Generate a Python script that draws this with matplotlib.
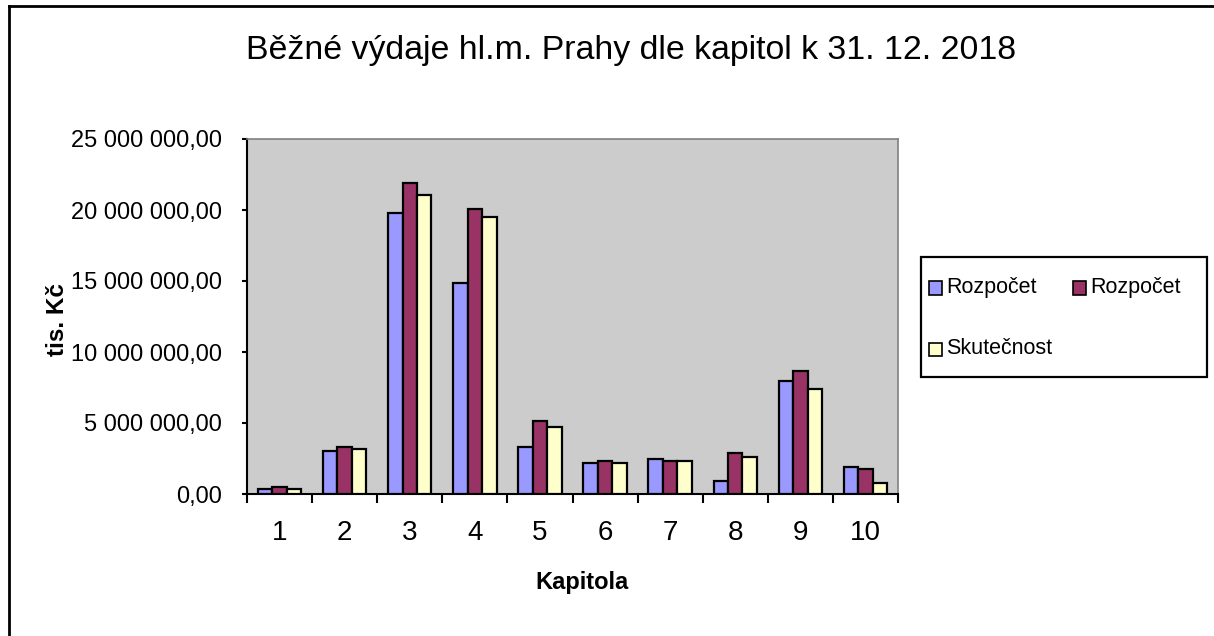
#!/usr/bin/env python3

import matplotlib
matplotlib.use('Agg')
import matplotlib.pyplot as plt
import numpy as np
from matplotlib.patches import Rectangle
from matplotlib.lines import Line2D
from matplotlib.ticker import FuncFormatter, FixedLocator

plt.rcParams['font.family'] = ['Liberation Sans', 'DejaVu Sans']

kapitoly = ['1', '2', '3', '4', '5', '6', '7', '8', '9', '10']
rozpocet_schvaleny = [0.37e6, 3.05e6, 19.8e6, 14.86e6, 3.33e6, 2.2e6, 2.49e6, 0.94e6, 7.98e6, 1.92e6]
rozpocet_upraveny = [0.51e6, 3.33e6, 21.9e6, 20.07e6, 5.14e6, 2.35e6, 2.35e6, 2.91e6, 8.68e6, 1.78e6]
skutecnost = [0.37e6, 3.19e6, 21.06e6, 19.5e6, 4.74e6, 2.2e6, 2.35e6, 2.63e6, 7.42e6, 0.8e6]

series_names = ['Rozpočet', 'Rozpočet', 'Skutečnost']
colors = ['#9999FF', '#993366', '#FFFFCC']

W, H = 1214, 636
fig = plt.figure(figsize=(W / 100, H / 100), dpi=100)

def px(x, y):
    # pixel coords (from top left) -> figure fraction
    return x / W, 1 - y / H

# plot area in pixels: left 247, right 898, top 139, bottom 494
ax = fig.add_axes([247 / W, 1 - 494 / H, (898 - 247) / W, (494 - 139) / H])
ax.set_facecolor('#CCCCCC')

x = np.arange(len(kapitoly))
bw = 1 / 4.5
data = [rozpocet_schvaleny, rozpocet_upraveny, skutecnost]
for i, (vals, c) in enumerate(zip(data, colors)):
    ax.bar(x + (i - 1) * bw, vals, bw, color=c, edgecolor='black',
           linewidth=1.6, zorder=3)

ax.set_xlim(-0.5, len(kapitoly) - 0.5)
ax.set_ylim(0, 25e6)
ax.set_yticks(np.arange(0, 25e6 + 1, 5e6))
ax.yaxis.set_major_formatter(FuncFormatter(
    lambda v, p: f'{v:,.2f}'.replace(',', ' ').replace('.', ',')))
ax.tick_params(axis='y', direction='out', length=3.8, width=1.5,
               labelsize=17, pad=14)

# category boundaries as major ticks, labels on minor ticks
ax.xaxis.set_major_locator(FixedLocator(np.arange(-0.5, len(kapitoly), 1)))
ax.xaxis.set_minor_locator(FixedLocator(x))
ax.set_xticklabels([], minor=False)
ax.set_xticklabels(kapitoly, minor=True)
ax.tick_params(axis='x', which='major', direction='out', length=6.5, width=1.5)
ax.tick_params(axis='x', which='minor', length=0, labelsize=20, pad=19)

for s in ['left', 'bottom']:
    ax.spines[s].set_color('black')
    ax.spines[s].set_linewidth(1.5)
for s in ['top', 'right']:
    ax.spines[s].set_color('#808080')
    ax.spines[s].set_linewidth(1.2)

fig.text(*px(631, 51), 'Běžné výdaje hl.m. Prahy dle kapitol k 31. 12. 2018',
         ha='center', va='center', fontsize=24.4)
fig.text(*px(57, 320), 'tis. Kč', rotation=90, ha='center', va='center',
         fontsize=17.5, fontweight='bold')
fig.text(*px(582, 582), 'Kapitola', ha='center', va='center',
         fontsize=17, fontweight='bold')

# legend box
x0, y0 = px(921, 377)
x1, y1 = px(1207, 257)
fig.add_artist(Rectangle((x0, y0), x1 - x0, y1 - y0, transform=fig.transFigure,
                         facecolor='white', edgecolor='black', linewidth=1.6))
entries = [(929, 288), (1073, 288), (929, 349)]
for (ex, ey), name, c in zip(entries, series_names, colors):
    mx, my = px(ex, ey + 6.5)
    fig.add_artist(Rectangle((mx, my), 13 / W, 13 / H, transform=fig.transFigure,
                             facecolor=c, edgecolor='black', linewidth=1.2))
    fig.text(*px(ex + 17, ey), name, ha='left', va='center', fontsize=15.5)

# outer chart border (left and top only visible)
fig.add_artist(Line2D([9 / W, 9 / W], [0, 1 - 6 / H], color='black',
                      linewidth=2, transform=fig.transFigure))
fig.add_artist(Line2D([9 / W, 1], [1 - 6 / H, 1 - 6 / H], color='black',
                      linewidth=2, transform=fig.transFigure))

fig.savefig('out.png', dpi=100)
